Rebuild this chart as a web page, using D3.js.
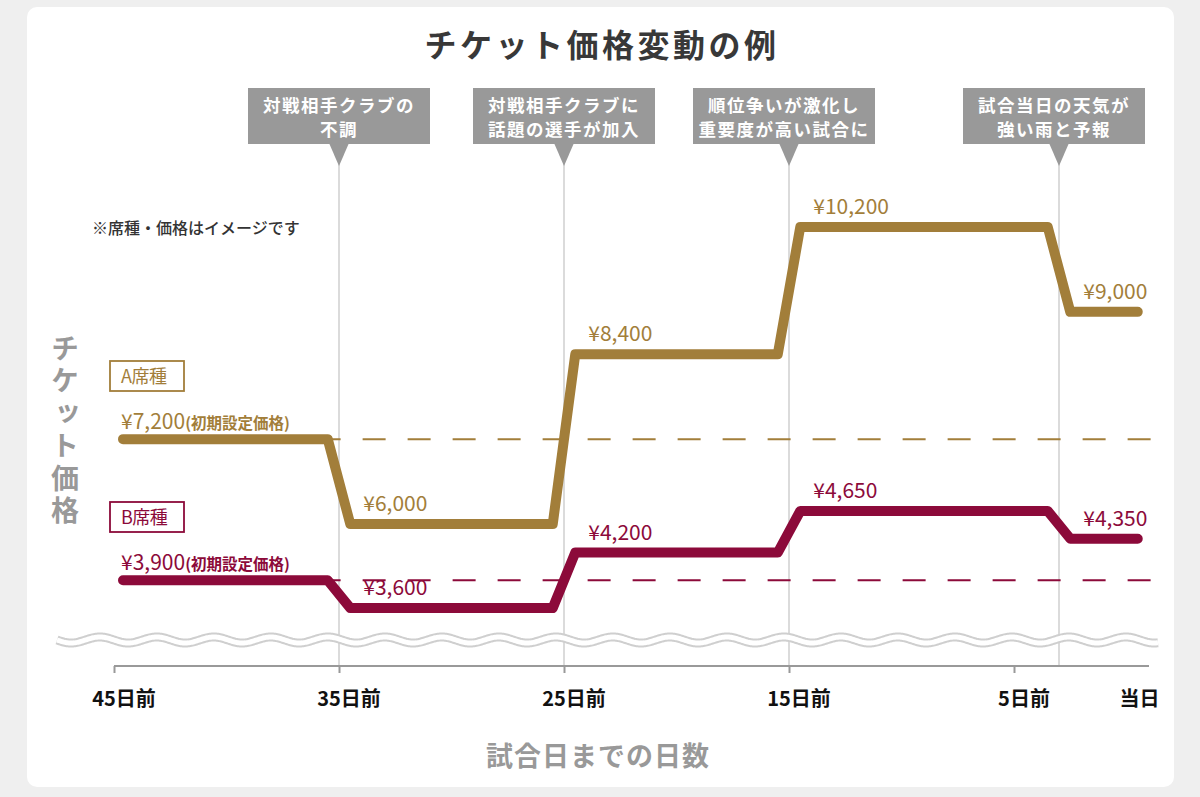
<!DOCTYPE html>
<html><head><meta charset="utf-8">
<script src="https://cdn.jsdelivr.net/npm/d3@7"></script>
<style>
html,body{margin:0;padding:0;background:#efefef;}
svg{display:block;font-family:"Noto Sans CJK JP","Noto Sans",sans-serif;}
</style></head>
<body><svg id="c" width="1200" height="797"></svg>
<script>
// ---- data ----
const tickDays = [45, 35, 25, 15, 5, 0];
const tickLabels = ["45日前", "35日前", "25日前", "15日前", "5日前", "当日"];
const eventDays = [35, 25, 15, 3];
const eventTexts = [
  ["対戦相手クラブの", "不調"],
  ["対戦相手クラブに", "話題の選手が加入"],
  ["順位争いが激化し", "重要度が高い試合に"],
  ["試合当日の天気が", "強い雨と予報"]
];
const seriesNames = ["A席種", "B席種"];
const pricesA = [7200, 6000, 8400, 10200, 9000];
const pricesB = [3900, 3600, 4200, 4650, 4350];
const startDay = 44.6, endDay = -0.5;
const title = "チケット価格変動の例";
const yTitle = "チケット価格";
const xTitle = "試合日までの日数";
const note = "※席種・価格はイメージです";
const initNote = "(初期設定価格)";

// ---- drawing ----
const svg = d3.select("#c");
const colA = "#a27e3a", colB = "#8c0a3a";

svg.append("rect").attr("x", 27).attr("y", 7).attr("width", 1147).attr("height", 780)
  .attr("rx", 10).attr("fill", "#fff");

const x = d3.scaleLinear().domain([45, 0]).range([114, 1126.5]);
const yA = d3.scaleLinear().domain([6000, 10200]).range([524, 227]);
const yB = d3.scaleLinear().domain([3600, 4650]).range([608, 511]);
const axisY = 666;

// title
svg.append("text").attr("x", 602).attr("y", 57).attr("text-anchor", "middle")
  .attr("font-size", 32).attr("font-weight", 700).attr("fill", "#383838")
  .attr("letter-spacing", 3.5).text(title);

// event lines
svg.append("g").selectAll("line").data(eventDays).join("line")
  .attr("x1", d => x(d)).attr("x2", d => x(d))
  .attr("y1", 160).attr("y2", axisY)
  .attr("stroke", "#cfcfcf").attr("stroke-width", 1.5);

// event callouts
const boxShift = [0, 0, -5, -5];
const ev = svg.append("g").selectAll("g").data(eventDays).join("g")
  .attr("transform", d => `translate(${x(d)},0)`);
ev.append("rect").attr("x", (d, i) => -91 + boxShift[i]).attr("y", 88).attr("width", 182).attr("height", 56).attr("fill", "#999");
ev.append("path").attr("d", "M-10,143L10,143L0,166Z").attr("fill", "#999");
ev.each(function(d, i) {
  const g = d3.select(this);
  eventTexts[i].forEach((t, j) => {
    g.append("text").attr("x", boxShift[i]).attr("y", 112 + j * 24).attr("text-anchor", "middle")
      .attr("font-size", 17.5).attr("font-weight", 700).attr("fill", "#fff")
      .attr("letter-spacing", 1.5).text(t);
  });
});

// note
svg.append("text").attr("x", 92).attr("y", 234).attr("font-size", 16).attr("font-weight", 500)
  .attr("fill", "#333").text(note);

// y title (vertical)
svg.append("text").attr("x", 65).attr("y", 334)
  .style("writing-mode", "vertical-rl").style("text-orientation", "upright")
  .attr("font-size", 28).attr("font-weight", 700).attr("fill", "#999")
  .attr("letter-spacing", 4.5).text(yTitle);

// wavy break band
const wavePts = d3.range(57, 1159, 1).map(px => [px, 640 + 3 * Math.sin((px - 57) / 57 * 2 * Math.PI)]);
const waveLine = d3.line();
svg.append("path").attr("d", waveLine(wavePts)).attr("fill", "none").attr("stroke", "#cfcfcf").attr("stroke-width", 9);
svg.append("path").attr("d", waveLine(wavePts)).attr("fill", "none").attr("stroke", "#fff").attr("stroke-width", 5);

// x axis
svg.append("line").attr("x1", x(45)).attr("x2", x(-1)).attr("y1", axisY).attr("y2", axisY)
  .attr("stroke", "#999").attr("stroke-width", 2);
const axisG = svg.append("g").attr("transform", `translate(0,${axisY})`)
  .call(d3.axisBottom(x).tickValues(tickDays.filter(d => d > 0)).tickSize(7).tickSizeOuter(0).tickFormat(""));
axisG.select(".domain").remove();
axisG.selectAll(".tick line").attr("stroke", "#999").attr("stroke-width", 2);
svg.append("g").selectAll("text").data(tickDays).join("text")
  .attr("x", d => x(d) + (d === 0 ? 13 : 10)).attr("y", 706).attr("text-anchor", "middle")
  .attr("font-size", 20).attr("font-weight", 700).attr("fill", "#111")
  .text((d, i) => tickLabels[i]);
svg.append("text").attr("x", 598).attr("y", 766).attr("text-anchor", "middle")
  .attr("font-size", 27).attr("font-weight", 700).attr("fill", "#999").attr("letter-spacing", 1)
  .text(xTitle);

// series
function pts(prices) {
  const p = [[startDay, prices[0]]];
  eventDays.forEach((e, i) => { p.push([e + 0.5, prices[i]]); p.push([e - 0.5, prices[i + 1]]); });
  p.push([endDay, prices[prices.length - 1]]);
  return p;
}
const series = [
  {name: seriesNames[0], prices: pricesA, y: yA, col: colA, legendY: 361},
  {name: seriesNames[1], prices: pricesB, y: yB, col: colB, legendY: 502}
];
series.forEach(s => {
  // dashed initial price reference
  svg.append("line").attr("x1", x(35.95)).attr("x2", x(-1.3))
    .attr("y1", s.y(s.prices[0])).attr("y2", s.y(s.prices[0]))
    .attr("stroke", s.col).attr("stroke-width", 2).attr("stroke-dasharray", "23 22");
  const line = d3.line().x(d => x(d[0])).y(d => s.y(d[1]));
  svg.append("path").attr("d", line(pts(s.prices))).attr("fill", "none")
    .attr("stroke", s.col).attr("stroke-width", 10)
    .attr("stroke-linejoin", "round").attr("stroke-linecap", "round");
  // legend box
  svg.append("rect").attr("x", 110).attr("y", s.legendY).attr("width", 74).attr("height", 30)
    .attr("fill", "#fff").attr("stroke", s.col).attr("stroke-width", 1.8);
  svg.append("text").attr("x", 121).attr("y", s.legendY + 22).attr("font-size", 18).attr("font-weight", 400)
    .attr("fill", s.col).attr("letter-spacing", -0.5).text(s.name);
  // initial price label
  const t0 = svg.append("text").attr("x", 121).attr("y", s.y(s.prices[0]) - 10).attr("fill", s.col);
  t0.append("tspan").attr("font-size", 21).attr("font-weight", 400).text("¥" + d3.format(",")(s.prices[0]));
  t0.append("tspan").attr("font-size", 15.5).attr("font-weight", 700).text(initNote);
  // change labels
  s.prices.slice(1).forEach((v, i) => {
    svg.append("text").attr("x", x(eventDays[i] - 0.5) + 13).attr("y", s.y(v) - 13)
      .attr("font-size", 21).attr("font-weight", 400).attr("fill", s.col)
      .text("¥" + d3.format(",")(v));
  });
});
</script></body></html>
